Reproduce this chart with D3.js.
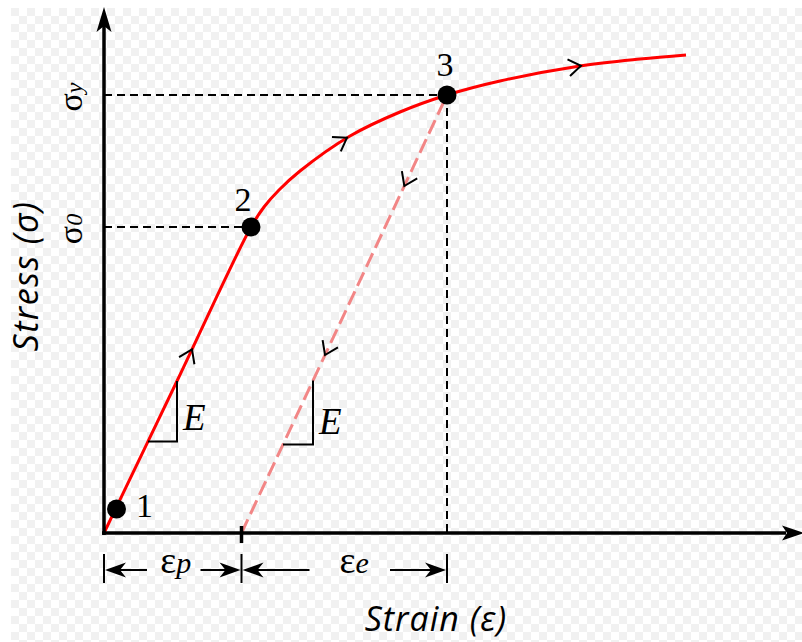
<!DOCTYPE html>
<html>
<head>
<meta charset="utf-8">
<script src="https://cdn.jsdelivr.net/npm/d3@7"></script>
<style>
  html, body { margin: 0; padding: 0; background: #fff; }
  svg { display: block; }
</style>
</head>
<body>
<svg id="chart" width="802" height="642"></svg>
<script>
// Loading curve (strain, stress) in arbitrary units
const loadStrain = [0, 0.735, 1.47, 1.60, 1.75, 1.96, 2.46, 2.96, 3.43, 3.96, 4.76, 5.36, 5.82];
const loadStress = [0, 1.53, 3.06, 3.26, 3.43, 3.62, 3.97, 4.21, 4.38, 4.52, 4.67, 4.74, 4.78];

// Numbered state points
const pointLabels = ["1", "2", "3"];
const pointStrain = [0.125, 1.47, 3.43];
const pointStress = [0.24, 3.06, 4.38];

// Stress levels marked on the vertical axis
const levelLabels = [["σ", "0"], ["σ", "y"]];
const levelStress = [3.06, 4.38];

// Elastic unloading from point 3 back to the plastic strain
const plasticStrain = 1.375;
const unloadStrain = [plasticStrain, 3.43];
const unloadStress = [0, 4.38];

// Direction markers along the paths
const loadMarkStrain = [0.88, 2.43, 4.77];
const unloadMarkStress = [3.47, 1.78];

// Slope triangles (strain at base start / end)
const slopeLoad = [0.44, 0.73];
const slopeUnload = [1.79, 2.09];

const axisTitles = ["Strain (ε)", "Stress (σ)"];

const svg = d3.select("#chart");
const W = 802, H = 642;

const x = d3.scaleLinear().domain([0, 7]).range([104, 804]);
const y = d3.scaleLinear().domain([0, 5]).range([533, 33]);

// faint checkerboard backdrop
const defs = svg.append("defs");
const pat = defs.append("pattern").attr("id", "checker")
  .attr("patternUnits", "userSpaceOnUse").attr("width", 16).attr("height", 16)
  .attr("x", 11).attr("y", 8);
pat.append("rect").attr("width", 16).attr("height", 16).attr("fill", "#ffffff");
pat.append("rect").attr("width", 8).attr("height", 8).attr("fill", "#f1f1f1");
pat.append("rect").attr("x", 8).attr("y", 8).attr("width", 8).attr("height", 8).attr("fill", "#f1f1f1");
svg.append("rect").attr("width", W).attr("height", H).attr("fill", "#fff");
svg.append("rect").attr("x", 11).attr("y", 8).attr("width", W - 11).attr("height", H - 8).attr("fill", "url(#checker)");

// swept arrowhead: tip (tx,ty), unit direction (dx,dy)
function arrowHead(tx, ty, dx, dy, len, half, notch) {
  const px = -dy, py = dx;
  const bx = tx - dx * len, by = ty - dy * len;
  const nx = tx - dx * (len - notch), ny = ty - dy * (len - notch);
  return `M${tx},${ty}L${bx + px * half},${by + py * half}L${nx},${ny}L${bx - px * half},${by - py * half}Z`;
}
function chevron(tx, ty, dx, dy, len, ang) {
  const a = Math.atan2(-dy, -dx);
  const p1 = [tx + len * Math.cos(a + ang), ty + len * Math.sin(a + ang)];
  const p2 = [tx + len * Math.cos(a - ang), ty + len * Math.sin(a - ang)];
  return `M${p1[0]},${p1[1]}L${tx},${ty}L${p2[0]},${p2[1]}`;
}

const x0 = x(0), y0 = y(0);

// dashed guide lines
const guides = svg.append("g").attr("stroke", "#000").attr("stroke-width", 2)
  .attr("stroke-dasharray", "8,5").attr("fill", "none");
levelStress.forEach((s, i) => {
  guides.append("line").attr("x1", x0).attr("x2", x(i === 0 ? pointStrain[1] : pointStrain[2]))
    .attr("y1", y(s)).attr("y2", y(s));
});
guides.append("line").attr("x1", x(pointStrain[2])).attr("x2", x(pointStrain[2]))
  .attr("y1", y(pointStress[2])).attr("y2", y0);

// elastic unloading line
svg.append("path")
  .attr("d", d3.line().x(d => x(d[0])).y(d => y(d[1]))(d3.zip(unloadStrain, unloadStress)))
  .attr("fill", "none").attr("stroke", "#f28686").attr("stroke-width", 3)
  .attr("stroke-dasharray", "15,6");

// loading curve
const loadPath = svg.append("path")
  .attr("d", d3.line().x(d => x(d[0])).y(d => y(d[1])).curve(d3.curveCatmullRom.alpha(0.5))(d3.zip(loadStrain, loadStress)))
  .attr("fill", "none").attr("stroke", "#ff0000").attr("stroke-width", 3);

// axes
const axisG = svg.append("g");
axisG.append("line").attr("x1", x0).attr("x2", x0).attr("y1", y0 + 2).attr("y2", 26)
  .attr("stroke", "#000").attr("stroke-width", 3.5);
axisG.append("path").attr("d", arrowHead(x0, 7, 0, -1, 25, 7.5, 6)).attr("fill", "#000");
axisG.append("line").attr("x1", x0 - 2).attr("x2", 786).attr("y1", y0).attr("y2", y0)
  .attr("stroke", "#000").attr("stroke-width", 3.5);
axisG.append("path").attr("d", arrowHead(804, y0, 1, 0, 22, 7.5, 5)).attr("fill", "#000");
// plastic strain tick
axisG.append("line").attr("x1", x(plasticStrain)).attr("x2", x(plasticStrain))
  .attr("y1", y0 - 7).attr("y2", y0 + 10).attr("stroke", "#000").attr("stroke-width", 3.5);

// direction chevrons along loading path
const node = loadPath.node();
const total = node.getTotalLength();
function lengthAtX(px) {
  let lo = 0, hi = total;
  for (let i = 0; i < 40; i++) {
    const mid = (lo + hi) / 2;
    if (node.getPointAtLength(mid).x < px) lo = mid; else hi = mid;
  }
  return (lo + hi) / 2;
}
const marks = svg.append("g").attr("stroke", "#000").attr("stroke-width", 2).attr("fill", "none");
loadMarkStrain.forEach(s => {
  const L = lengthAtX(x(s));
  const p = node.getPointAtLength(L);
  const q = node.getPointAtLength(Math.min(total, L + 1));
  const r = node.getPointAtLength(Math.max(0, L - 1));
  let dx = q.x - r.x, dy = q.y - r.y; const n = Math.hypot(dx, dy); dx /= n; dy /= n;
  marks.append("path").attr("d", chevron(p.x, p.y, dx, dy, 15, 0.6));
});
const uSlope = (unloadStress[1] - unloadStress[0]) / (unloadStrain[1] - unloadStrain[0]);
unloadMarkStress.forEach(s => {
  const st = unloadStrain[0] + s / uSlope;
  const px = x(st), py = y(s);
  let dx = x(unloadStrain[0]) - x(unloadStrain[1]), dy = y(unloadStress[0]) - y(unloadStress[1]);
  const n = Math.hypot(dx, dy); dx /= n; dy /= n;
  marks.append("path").attr("d", chevron(px, py, dx, dy, 15, 0.6));
});

// slope triangles
const loadE = loadStress[2] / loadStrain[2];
const tri = svg.append("g").attr("stroke", "#000").attr("stroke-width", 2).attr("fill", "none");
function slopeTri(a, b, f) {
  tri.append("path").attr("d", `M${x(a)},${y(f(a))}L${x(b)},${y(f(a))}L${x(b)},${y(f(b))}`);
  svg.append("text").attr("x", x(b) + 6).attr("y", y(f(a)) - 11)
    .attr("font-family", "Liberation Serif").attr("font-style", "italic").attr("font-size", 37)
    .attr("fill", "#000").text("E");
}
slopeTri(slopeLoad[0], slopeLoad[1], s => loadE * s);
slopeTri(slopeUnload[0], slopeUnload[1], s => uSlope * (s - plasticStrain));

// state points and their numbers
const labelOffset = [[28, 8], [-8, -16], [-2, -19]];
svg.append("g").selectAll("circle").data(pointLabels).join("circle")
  .attr("cx", (d, i) => x(pointStrain[i])).attr("cy", (d, i) => y(pointStress[i]))
  .attr("r", 9.5).attr("fill", "#000");
svg.append("g").selectAll("text").data(pointLabels).join("text")
  .attr("x", (d, i) => x(pointStrain[i]) + labelOffset[i][0])
  .attr("y", (d, i) => y(pointStress[i]) + labelOffset[i][1])
  .attr("text-anchor", "middle").attr("font-family", "Liberation Serif").attr("font-size", 34)
  .attr("fill", "#000").text(d => d);

// stress level labels along the vertical axis
levelLabels.forEach((lab, i) => {
  const t = svg.append("text")
    .attr("transform", `translate(82,${y(levelStress[i]) + 2}) rotate(-90)`)
    .attr("text-anchor", "middle").attr("font-family", "Liberation Serif").attr("font-size", 34)
    .attr("fill", "#000");
  t.append("tspan").text(lab[0]);
  t.append("tspan").attr("font-size", 24).attr("font-style", "italic").text(lab[1]);
});

// strain split dimension arrows
const dimY = 570;
const dim = svg.append("g");
[0, plasticStrain, pointStrain[2]].forEach(s => {
  dim.append("line").attr("x1", x(s)).attr("x2", x(s)).attr("y1", 554).attr("y2", 583)
    .attr("stroke", "#000").attr("stroke-width", 2);
});
function dimArrow(from, to) {
  const dx = Math.sign(to - from);
  dim.append("line").attr("x1", from).attr("x2", to - dx * 10).attr("y1", dimY).attr("y2", dimY)
    .attr("stroke", "#000").attr("stroke-width", 2);
  dim.append("path").attr("d", arrowHead(to, dimY, dx, 0, 21, 7.5, 6)).attr("fill", "#000");
}
const xp = x(plasticStrain), x3 = x(pointStrain[2]);
dimArrow(x0 + 43, x0 + 1);
dimArrow(xp - 41, xp - 1);
dimArrow(xp + 68, xp + 1);
dimArrow(x3 - 57, x3 - 1);
function dimLabel(cx, main, sub) {
  const t = dim.append("text").attr("x", cx).attr("y", 573).attr("text-anchor", "middle")
    .attr("font-family", "Liberation Serif").attr("font-size", 38).attr("fill", "#000");
  t.append("tspan").text(main);
  t.append("tspan").attr("font-size", 30).attr("font-style", "italic").text(sub);
}
dimLabel((x0 + xp) / 2 + 3, "ε", "p");
dimLabel((xp + x3) / 2 + 10, "ε", "e");

// axis titles
svg.append("text").attr("x", 436).attr("y", 631).attr("text-anchor", "middle")
  .attr("font-family", "Open Sans").attr("font-style", "italic").attr("font-size", 34)
  .attr("letter-spacing", 1).attr("fill", "#000").text(axisTitles[0]);
svg.append("text").attr("transform", "translate(38,276) rotate(-90)").attr("text-anchor", "middle")
  .attr("font-family", "Open Sans").attr("font-style", "italic").attr("font-size", 34)
  .attr("letter-spacing", 1.5).attr("fill", "#000").text(axisTitles[1]);
</script>
</body>
</html>
